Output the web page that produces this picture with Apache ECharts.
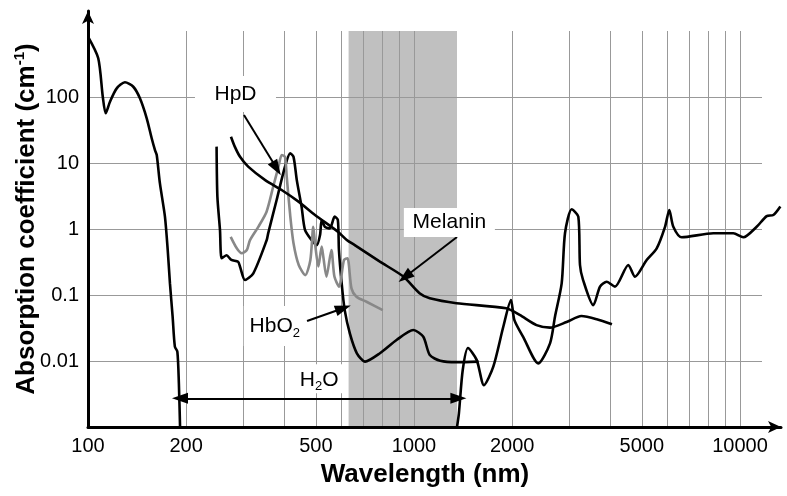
<!DOCTYPE html>
<html><head><meta charset="utf-8">
<script src="https://cdn.jsdelivr.net/npm/echarts@6/dist/echarts.min.js"></script>
<style>html,body{margin:0;padding:0;background:#fff}#c{width:787px;height:496px}</style>
</head><body><div id="c"></div>
<script>
// ---- axis ticks / labels ----
const xGridValues = [100,200,300,400,500,600,700,800,900,1000,2000,3000,4000,5000,6000,7000,8000,9000,10000];
const xTickLabels = [100,200,500,1000,2000,5000,10000];
const yTickLabels = [0.01,0.1,1,10,100];
const h2oBand = [630, 1355];

// ---- water (UV part) ----
const waterUvX = [100,107.5,111,113.3,116.8,122.5,129.8,137.7,144.3,151.4,156.8,160.5,162.5,166.2,172.2,175.6,178.4,181.8,184.7,188,190,191.6];
const waterUvY = [820,386,101,56.6,85,135,167,143,95.6,47.6,23.7,15.7,13.2,4.9,1.54,0.48,0.15,0.047,0.0165,0.0138,0.0046,0.001];
// ---- water (IR part) ----
const waterIrX = [1355,1373,1411,1464,1557,1639,1751,1879,1984,2031,2164,2406,2614,2707,2838,2906,3045,3192,3230,3300,3548,3721,3900,4136,4544,4764,5173,5553,5889,6070,6244,6624,8283,9537,10235,11250,12077,12654,13300];
const waterIrY = [0.001,0.0016,0.0073,0.0157,0.0104,0.0043,0.0082,0.033,0.084,0.042,0.023,0.0092,0.0185,0.047,0.15,0.87,1.99,1.54,0.285,0.17,0.07,0.134,0.159,0.134,0.285,0.189,0.339,0.51,1.08,1.94,1.08,0.748,0.861,0.861,0.748,1.08,1.57,1.63,2.2];
// ---- HbO2 ----
const hbo2X = [248,249.4,254,257.1,266,275.3,288.7,292.7,303,321.5,353.4,357,379,402,417,427,437,452,463,485,503,515,521,533,552,571,584,588.5,600,613,636,668,708,786,884,995,1068,1118,1204,1350,1577];
const hbo2Y = [17.7,3.09,0.97,0.36,0.40,0.34,0.32,0.268,0.169,0.213,0.68,0.86,2.75,8.8,14,12.4,5.5,2.18,0.97,0.68,0.57,0.81,1.37,1.08,1.02,1.54,1.37,0.48,0.15,0.059,0.026,0.0131,0.0098,0.0131,0.0208,0.0295,0.0233,0.0123,0.0101,0.0096,0.0098];
// ---- HpD ----
const hpdX = [274,286,296,307,314,333,353,370,384,393,402,407,417,427,443,464,481,491,497,509,521,527,539,558,570,589,610,625,643,666,715,802];
const hpdY = [0.76,0.51,0.43,0.48,0.68,1.08,1.83,4.4,8.8,13.2,12.4,6.2,1.63,0.61,0.285,0.2,0.34,1.08,0.61,0.27,0.54,0.38,0.19,0.48,0.19,0.134,0.34,0.36,0.126,0.094,0.079,0.059];
// ---- Melanin ----
const melX = [274.5,282,292.7,310,349.6,392.6,442.3,497,584,622,658,786,928,1040,1118,1350,1918,2109,2376,2614,2939,3263,3636,4048];
const melY = [25,17.7,12.4,8.8,5.5,3.9,2.6,1.63,0.91,0.68,0.57,0.32,0.19,0.106,0.089,0.075,0.063,0.05,0.035,0.032,0.039,0.048,0.043,0.036];

const FONT = "'Liberation Sans', Arial, sans-serif";
const pair = (xs, ys) => xs.map((x, i) => [x, ys[i]]);

const chart = echarts.init(document.getElementById('c'), null, {renderer: 'canvas'});

const curveStyle = (color) => ({
  type: 'line', xAxisIndex: 1, yAxisIndex: 1, showSymbol: false, symbol: 'none',
  smooth: 0.25, clip: false, silent: true, z: 3,
  lineStyle: {color: color, width: 2.6}
});

const option = {
  animation: false,
  backgroundColor: '#fff',
  grid: [
    {left: 88, top: 31, width: 674, height: 396, containLabel: false},
    {left: 88, top: 11, right: 6, bottom: 69, containLabel: false}
  ],
  xAxis: [
    {
      type: 'log', gridIndex: 0, min: 100, max: 11681, logBase: 10,
      axisLine: {show: false},
      axisTick: {show: false, customValues: xGridValues},
      axisLabel: {customValues: xTickLabels, fontSize: 20, color: '#000', fontFamily: FONT, margin: 9,
        formatter: (v) => String(Math.round(v))},
      splitLine: {show: true, lineStyle: {color: '#999', width: 1}},
      name: 'Wavelength (nm)', nameLocation: 'middle', nameGap: 35,
      nameTextStyle: {fontSize: 26, fontWeight: 'bold', color: '#000', fontFamily: FONT}
    },
    {
      type: 'log', gridIndex: 1, min: 100, max: 13360,
      axisLine: {show: true, symbol: ['none', 'arrow'], symbolSize: [9, 13], lineStyle: {color: '#000', width: 3}},
      axisTick: {show: false}, axisLabel: {show: false}, splitLine: {show: false}
    }
  ],
  yAxis: [
    {
      type: 'log', gridIndex: 0, min: 0.001, max: 1000, logBase: 10,
      axisLine: {show: false},
      axisTick: {show: false, customValues: yTickLabels},
      axisLabel: {customValues: yTickLabels, fontSize: 20, color: '#000', fontFamily: FONT, margin: 9,
        formatter: (v) => String(v)},
      splitLine: {show: true, lineStyle: {color: '#999', width: 1}}
    },
    {
      type: 'log', gridIndex: 1, min: 0.001, max: 2009,
      axisLine: {show: true, symbol: ['none', 'arrow'], symbolSize: [9, 13], lineStyle: {color: '#000', width: 3}},
      axisTick: {show: false}, axisLabel: {show: false}, splitLine: {show: false},
      name: 'Absorption coefficient (cm{sup|-1})', nameLocation: 'middle', nameGap: 46, nameRotate: 90,
      nameTextStyle: {fontSize: 26, fontWeight: 'bold', color: '#000', fontFamily: FONT,
        rich: {sup: {fontSize: 15, fontWeight: 'bold', fontFamily: FONT, color: '#000', padding: [0, 0, 15, 0]}}}
    }
  ],
  series: [
    {
      type: 'line', xAxisIndex: 0, yAxisIndex: 0, data: [], silent: true,
      markArea: {silent: true, z: -1, itemStyle: {color: '#c0c0c0'},
        data: [[{xAxis: h2oBand[0]}, {xAxis: h2oBand[1]}]]}
    },
    Object.assign(curveStyle('#000'), {name: 'H2O UV', data: pair(waterUvX, waterUvY)}),
    Object.assign(curveStyle('#000'), {name: 'H2O IR', data: pair(waterIrX, waterIrY)}),
    Object.assign(curveStyle('#000'), {name: 'HbO2', data: pair(hbo2X, hbo2Y)}),
    Object.assign(curveStyle('#888'), {name: 'HpD', data: pair(hpdX, hpdY)}),
    Object.assign(curveStyle('#000'), {name: 'Melanin', data: pair(melX, melY)}),
    {
      type: 'line', xAxisIndex: 0, yAxisIndex: 0, data: [], silent: true,
      markLine: {
        silent: true, symbol: ['none', 'triangle'], symbolSize: [11, 16],
        lineStyle: {color: '#000', width: 2, type: 'solid'},
        label: {show: false},
        data: [
          [{coord: [300.9, 53.4]}, {coord: [379, 8.3]}],
          [{coord: [1355, 0.756]}, {coord: [938, 0.187]}],
          [{coord: [469.8, 0.0404]}, {coord: [606.5, 0.063]}],
          [{coord: [191.5, 0.00272], symbol: 'triangle'}, {coord: [1368, 0.00272], symbol: 'triangle',
            label: {show: true, position: 'middle', formatter: 'H{s|2}O', fontSize: 21, color: '#000', fontFamily: FONT,
              backgroundColor: '#fff', padding: [2, 6, 0, 6],
              rich: {s: {fontSize: 13, fontFamily: FONT, color: '#000', padding: [14, 0, 0, 0]}}}}]
        ]
      },
      markPoint: {
        silent: true, symbol: 'rect',
        itemStyle: {color: '#fff'},
        label: {show: true, position: 'inside', color: '#000', fontSize: 21, fontFamily: FONT, formatter: '{b}',
          rich: {s: {fontSize: 13, fontFamily: FONT, color: '#000', padding: [14, 0, 0, 0]}}},
        data: [
          {name: 'HpD', coord: [283.4, 111], symbolSize: [81, 36]},
          {name: 'Melanin', coord: [1284, 1.255], symbolSize: [91, 29]},
          {name: 'HbO2', coord: [374, 0.0339], symbolSize: [62, 40], label: {formatter: 'HbO{s|2}'}}
        ]
      }
    }
  ]
};
chart.setOption(option);
</script></body></html>
